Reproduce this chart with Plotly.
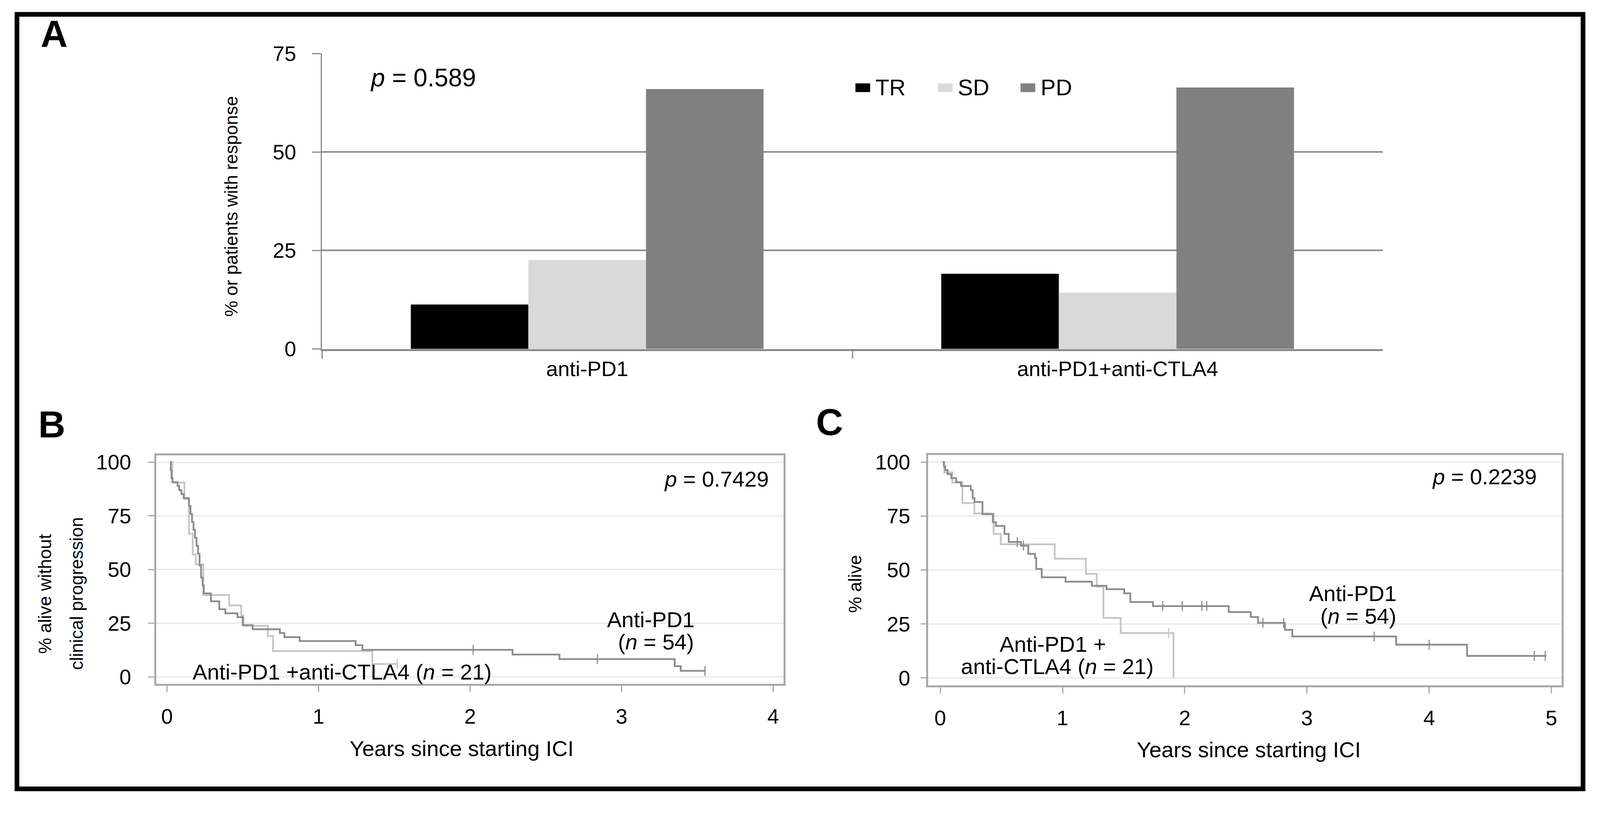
import plotly.graph_objects as go

W = 4244
# vertical placement model of the viewport inside the photographed picture
VOFF, VH = 32, 2146
FONT = "Liberation Sans, Arial, Helvetica, sans-serif"

# ---------------- Panel A data ----------------
categories = ["anti-PD1", "anti-PD1+anti-CTLA4"]
response_names = ["TR", "SD", "PD"]
tr_pct = [11.3, 19.1]
sd_pct = [22.6, 14.3]
pd_pct = [66.0, 66.4]
bar_colors = ["#000000", "#d9d9d9", "#808080"]
a_yticks = [0, 25, 50, 75]

# ---------------- Panel B data (PFS) ----------------
pfs_pd1_t = [0.02, 0.025, 0.03, 0.036, 0.07, 0.08, 0.095, 0.11, 0.145, 0.155, 0.165, 0.175,
             0.185, 0.195, 0.205, 0.215, 0.225, 0.235, 0.243, 0.29, 0.345, 0.385, 0.465, 0.50,
             0.565, 0.745, 0.775, 0.875, 1.245, 1.29, 2.28, 2.59, 3.35, 3.39, 3.55]
pfs_pd1_s = [100, 96.3, 92.6, 90.7, 88.9, 87.0, 85.2, 83.3, 79.6, 75.9, 72.2, 68.5,
             64.8, 61.1, 57.4, 51.9, 46.3, 42.6, 38.9, 35.2, 31.5, 29.6, 27.8, 24.1,
             22.2, 20.4, 18.5, 16.7, 14.8, 12.6, 10.4, 8.3, 5.0, 2.8, 2.8]
pfs_pd1_cens_t = [2.02, 2.84, 3.55]
pfs_pd1_cens_s = [12.6, 8.3, 2.8]

pfs_combo_t = [0.02, 0.035, 0.115, 0.145, 0.17, 0.19, 0.24, 0.41, 0.49, 0.505, 0.665, 0.70, 1.355, 1.52]
pfs_combo_s = [100, 90.5, 82.9, 66.7, 57.1, 52.4, 38.1, 33.3, 28.6, 23.8, 19.0, 12.0, 6.0, 6.0]
pfs_combo_cens_t = [1.52]
pfs_combo_cens_s = [6.0]

# ---------------- Panel C data (OS) ----------------
os_pd1_t = [0.02, 0.03, 0.04, 0.06, 0.09, 0.13, 0.17, 0.25, 0.265, 0.28, 0.345, 0.43,
            0.455, 0.525, 0.56, 0.66, 0.72, 0.775, 0.785, 0.83, 1.025, 1.24, 1.36, 1.505,
            1.555, 1.74, 2.36, 2.54, 2.60, 2.82, 2.88, 3.73, 4.31, 4.96]
os_pd1_s = [100, 98.1, 96.3, 94.4, 92.6, 90.7, 88.9, 87.0, 83.3, 81.5, 75.9, 72.2,
            70.4, 66.7, 63.0, 61.3, 57.5, 55.6, 50.5, 46.6, 44.6, 42.7, 41.1, 39.2,
            35.2, 33.3, 30.5, 28.2, 25.5, 22.3, 19.2, 15.4, 10.2, 10.2]
os_pd1_cens_t = [0.63, 0.68, 1.82, 1.98, 2.14, 2.18, 2.64, 2.81, 3.55, 4.0, 4.86, 4.95]
os_pd1_cens_s = [63.0, 61.3, 33.3, 33.3, 33.3, 33.3, 25.5, 25.5, 19.2, 15.4, 10.2, 10.2]

os_combo_t = [0.02, 0.033, 0.098, 0.181, 0.279, 0.436, 0.495, 0.936, 1.191, 1.28, 1.335, 1.476, 1.908]
os_combo_s = [100, 95.2, 90.5, 81.0, 76.2, 66.7, 61.9, 55.2, 48.2, 42.3, 27.8, 20.8, 0]
os_combo_cens_t = [1.868]
os_combo_cens_s = [20.8]

km_yticks = [0, 25, 50, 75, 100]
b_xticks = [0, 1, 2, 3, 4]
c_xticks = [0, 1, 2, 3, 4, 5]

DARK = "#8c8c8c"
LIGHT = "#c6c6c6"


def px(x):
    return x / W


def py(y):
    return 1 - (y - VOFF) / VH


fig = go.Figure()

# ---- Panel A bars ----
for name, vals, col in zip(response_names, [tr_pct, sd_pct, pd_pct], bar_colors):
    fig.add_trace(go.Bar(x=categories, y=vals, name=name, marker_color=col,
                         marker_line_width=0, xaxis="x", yaxis="y", showlegend=False))


def km(t, s, col, xa, ya):
    fig.add_trace(go.Scatter(x=t, y=s, mode="lines", line=dict(shape="hv", color=col, width=4.5),
                             xaxis=xa, yaxis=ya, showlegend=False, hoverinfo="skip"))


def cens(t, s, col, xa, ya):
    fig.add_trace(go.Scatter(x=t, y=s, mode="markers",
                             marker=dict(symbol="line-ns-open", size=18, color=col,
                                         line=dict(color=col, width=3)),
                             xaxis=xa, yaxis=ya, showlegend=False, hoverinfo="skip"))


km(pfs_combo_t, pfs_combo_s, LIGHT, "x2", "y2")
cens(pfs_combo_cens_t, pfs_combo_cens_s, LIGHT, "x2", "y2")
km(pfs_pd1_t, pfs_pd1_s, DARK, "x2", "y2")
cens(pfs_pd1_cens_t, pfs_pd1_cens_s, DARK, "x2", "y2")

km(os_combo_t, os_combo_s, LIGHT, "x3", "y3")
cens(os_combo_cens_t, os_combo_cens_s, LIGHT, "x3", "y3")
km(os_pd1_t, os_pd1_s, DARK, "x3", "y3")
cens(os_pd1_cens_t, os_pd1_cens_s, DARK, "x3", "y3")

TICKFONT = dict(family=FONT, size=54, color="#000000")
AGRAY = "#8a8a8a"
FGRAY = "#a8a8a8"

layout = dict(
    autosize=True, margin=dict(l=0, r=0, t=0, b=0, pad=0),
    paper_bgcolor="white", plot_bgcolor="white",
    barmode="group", bargap=0.335, bargroupgap=0,
    font=dict(family=FONT, color="#000000"),
    xaxis=dict(domain=[px(854), px(3668)], anchor="y", type="category",
               showline=True, linecolor=AGRAY, linewidth=5, ticks="outside", tickson="boundaries",
               ticklen=20, tickwidth=3, tickcolor=AGRAY, showgrid=False, tickfont=TICKFONT),
    yaxis=dict(domain=[py(926), py(143)], anchor="x", range=[0, 75], tickvals=a_yticks,
               showline=True, linecolor=AGRAY, linewidth=3, ticks="outside", ticklen=22,
               tickwidth=3, tickcolor=AGRAY, showgrid=True, gridcolor=AGRAY, gridwidth=4,
               zeroline=False, tickfont=TICKFONT, ticklabelstandoff=30),
    xaxis2=dict(domain=[px(414), px(2079)], anchor="y2", range=[-0.072, 4.07], tickvals=b_xticks,
                showline=True, mirror=True, linecolor=FGRAY, linewidth=5, ticks="outside",
                ticklen=16, tickwidth=3, tickcolor=FGRAY, showgrid=False, zeroline=False,
                tickfont=TICKFONT, ticklabelstandoff=16),
    yaxis2=dict(domain=[py(1814), py(1208)], anchor="x2", range=[-3.3, 103.2], tickvals=km_yticks,
                showline=True, mirror=True, linecolor=FGRAY, linewidth=5, ticks="outside",
                ticklen=16, tickwidth=3, tickcolor=FGRAY, showgrid=True, gridcolor="#ececec",
                gridwidth=4, zeroline=False, tickfont=TICKFONT, ticklabelstandoff=32),
    xaxis3=dict(domain=[px(2462), px(4142)], anchor="y3", range=[-0.099, 5.083], tickvals=c_xticks,
                showline=True, mirror=True, linecolor=FGRAY, linewidth=5, ticks="outside",
                ticklen=16, tickwidth=3, tickcolor=FGRAY, showgrid=False, zeroline=False,
                tickfont=TICKFONT, ticklabelstandoff=16),
    yaxis3=dict(domain=[py(1818), py(1207)], anchor="x3", range=[-3.5, 103.3], tickvals=km_yticks,
                showline=True, mirror=True, linecolor=FGRAY, linewidth=5, ticks="outside",
                ticklen=14, tickwidth=3, tickcolor=FGRAY, showgrid=True, gridcolor="#ececec",
                gridwidth=4, zeroline=False, tickfont=TICKFONT, ticklabelstandoff=16),
)
fig.update_layout(**layout)

TXT = 56
annos = []


def ann(text, x, y, size=TXT, xanchor="center", angle=0, bold=False):
    annos.append(dict(text=text, x=px(x), y=py(y), xref="paper", yref="paper",
                      xanchor=xanchor, yanchor="middle", showarrow=False, textangle=angle,
                      font=dict(family=FONT, size=size, color="#000000",
                                weight="bold" if bold else "normal")))


# panel letters
ann("A", 143, 90, size=96, bold=True)
ann("B", 137, 1126, size=96, bold=True)
ann("C", 2200, 1119, size=96, bold=True)

# Panel A texts
ann("<i>p</i> = 0.589", 980, 207, size=64, xanchor="left")
ann("% or patients with response", 614, 548, size=46, angle=-90)

# manual legend for panel A
leg_marker_x = [2269, 2488, 2707]
shapes = []
for name, col, mx in zip(response_names, bar_colors, leg_marker_x):
    shapes.append(dict(type="rect", xref="paper", yref="paper", x0=px(mx), x1=px(mx + 39),
                       y0=py(245), y1=py(222), fillcolor=col, line=dict(width=0)))
    ann(name, mx + 51, 232, size=58, xanchor="left")

# Panel B texts
ann("<i>p</i> = 0.7429", 2041, 1271, xanchor="right")
ann("Anti-PD1", 1726, 1643)
ann("(<i>n</i> = 54)", 1740, 1702)
ann("Anti-PD1 +anti-CTLA4 (<i>n</i> = 21)", 908, 1782)
ann("% alive without", 119, 1575, size=46, angle=-90)
ann("clinical progression", 203, 1574, size=46, angle=-90)
ann("Years since starting ICI", 1225, 1985)

# Panel C texts
ann("<i>p</i> = 0.2239", 4078, 1264, xanchor="right")
ann("Anti-PD1", 3588, 1574)
ann("(<i>n</i> = 54)", 3603, 1634)
ann("Anti-PD1 +", 2792, 1709)
ann("anti-CTLA4 (<i>n</i> = 21)", 2804, 1768)
ann("% alive", 2268, 1549, size=46, angle=-90)
ann("Years since starting ICI", 3313, 1988)

# outer black frame
shapes.append(dict(type="rect", xref="paper", yref="paper", x0=px(45), x1=px(4199),
                   y0=py(2092), y1=py(39), line=dict(color="#000000", width=12),
                   fillcolor="rgba(0,0,0,0)"))

fig.update_layout(annotations=annos, shapes=shapes)

POST = """
var gd = document.getElementById('{plot_id}');
document.documentElement.style.margin = '0';
document.documentElement.style.padding = '0';
document.body.style.margin = '0';
document.body.style.padding = '0';
document.body.style.overflow = 'hidden';
gd.style.position = 'fixed';
gd.style.left = '0px';
gd.style.top = '0px';
gd.style.width = '100vw';
gd.style.height = '100vh';
Plotly.Plots.resize(gd);
"""

fig.write_html("out.html", default_width="100vw", default_height="100vh",
               config={"displayModeBar": False, "responsive": True}, post_script=POST)
